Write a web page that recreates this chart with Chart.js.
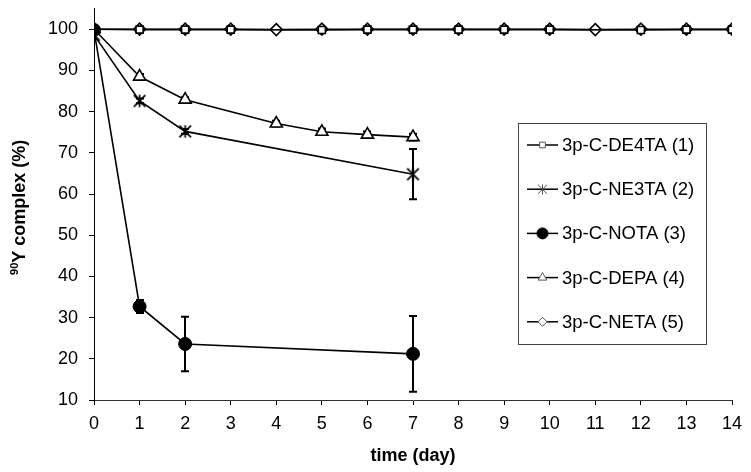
<!DOCTYPE html>
<html><head><meta charset="utf-8">
<script src="https://cdn.jsdelivr.net/npm/chart.js@4/dist/chart.umd.min.js"></script>
<style>html,body{margin:0;padding:0;background:#fff}</style>
</head><body>
<canvas id="c" width="751" height="472"></canvas>
<script>
// ---- data ----
const seriesNames = ['3p-C-DE4TA (1)', '3p-C-NE3TA (2)', '3p-C-NOTA (3)', '3p-C-DEPA (4)', '3p-C-NETA (5)'];
const xTickLabels = [0,1,2,3,4,5,6,7,8,9,10,11,12,13,14];
const yTickLabels = [10,20,30,40,50,60,70,80,90,100];
const xTitle = 'time (day)';
const yTitleSup = '90';
const yTitleMain = 'Y complex (%)';

const de4taDays = [0,1,2,3,5,6,7,8,9,10,12,13,14];
const de4taVals = [100,99.9,99.9,99.9,99.8,99.9,99.9,99.9,99.9,99.9,99.8,99.9,99.9];
const de4taErr  = [0,0,0,0,0,0,0,0,0,0,0,0,0];

const ne3taDays = [0,1,2,7];
const ne3taVals = [98.6,82.6,75.2,64.8];
const ne3taErr  = [0,0.6,0.6,6.1];

const notaDays = [0,1,2,7];
const notaVals = [99.8,32.7,23.6,21.2];
const notaErr  = [0,1.6,6.6,9.2];

const depaDays = [0,1,2,4,5,6,7];
const depaVals = [100,88.5,82.9,77.1,75.1,74.4,73.8];
const depaErr  = [0,0.6,0.6,0.7,0.8,0.8,0.8];

const netaDays = [0,1,2,3,4,5,6,7,8,9,10,11,12,13,14];
const netaVals = [100,100,100,100,99.9,100,100,100,100,100,100,99.9,100,100,100];
const netaErr  = [0,0,0,0,0,0,0,0,0,0,0,0,0,0,0];

// ---- helpers ----
function pts(xs, ys){ return xs.map((x,i)=>({x:x, y:ys[i]})); }
function makeStar(size, lw, color){
  const c = document.createElement('canvas');
  c.width = size; c.height = size;
  const g = c.getContext('2d');
  g.strokeStyle = color; g.lineWidth = lw;
  const m = lw; const s = size;
  g.beginPath();
  g.moveTo(m, m); g.lineTo(s-m, s-m);
  g.moveTo(s-m, m); g.lineTo(m, s-m);
  g.moveTo(s/2, m-0.5); g.lineTo(s/2, s-m+0.5);
  g.stroke();
  return c;
}
const starBig = makeStar(15, 1.7, '#000');
const starSmall = makeStar(11, 1, '#555');

const errorsBySeries = [de4taErr, ne3taErr, notaErr, depaErr, netaErr];
const FAM = '"Liberation Sans", Arial, sans-serif';

const errorBarPlugin = {
  id: 'errorBars',
  beforeDatasetsDraw(chart){
    const ctx = chart.ctx, xs = chart.scales.x, ys = chart.scales.y;
    ctx.save();
    ctx.strokeStyle = '#000'; ctx.lineWidth = 2;
    chart.data.datasets.forEach((ds, di) => {
      const errs = errorsBySeries[di];
      ds.data.forEach((p, i) => {
        const e = errs[i];
        if (!e) return;
        const px = Math.round(xs.getPixelForValue(p.x));
        const yt = ys.getPixelForValue(p.y + e);
        const yb = ys.getPixelForValue(p.y - e);
        ctx.beginPath();
        ctx.moveTo(px, yt); ctx.lineTo(px, yb);
        ctx.moveTo(px-4, yt); ctx.lineTo(px+4, yt);
        ctx.moveTo(px-4, yb); ctx.lineTo(px+4, yb);
        ctx.stroke();
      });
    });
    ctx.restore();
  }
};

const yTitlePlugin = {
  id: 'yTitle',
  afterDraw(chart){
    const ctx = chart.ctx, ca = chart.chartArea;
    ctx.save();
    const mainFont = 'bold 18px ' + FAM, supFont = 'bold 11px ' + FAM;
    ctx.font = mainFont; const wMain = ctx.measureText(yTitleMain).width;
    ctx.font = supFont; const wSup = ctx.measureText(yTitleSup).width;
    const total = wMain + wSup;
    const cy = (ca.top + ca.bottom) / 2 + 3;
    ctx.translate(25, cy);
    ctx.rotate(-Math.PI/2);
    ctx.fillStyle = '#000';
    ctx.textBaseline = 'alphabetic'; ctx.textAlign = 'left';
    ctx.font = supFont;
    ctx.fillText(yTitleSup, -total/2, -7);
    ctx.font = mainFont;
    ctx.fillText(yTitleMain, -total/2 + wSup, 0);
    ctx.restore();
  }
};

const legendStyles = [
  {pointStyle:'rect', radius:4, borderWidth:1, fill:'#fff', stroke:'#555'},
  {pointStyle:starSmall, radius:5, borderWidth:1, fill:'#fff', stroke:'#555'},
  {pointStyle:'circle', radius:5.5, borderWidth:1, fill:'#000', stroke:'#000'},
  {pointStyle:'triangle', radius:5, borderWidth:1, fill:'#fff', stroke:'#555'},
  {pointStyle:'rectRot', radius:4.5, borderWidth:1, fill:'#fff', stroke:'#555'}
];

const boxLegendPlugin = {
  id: 'boxLegend',
  afterDatasetsDraw(chart){
    const ctx = chart.ctx;
    const L = 518, T = 123, R = 706, B = 344;
    ctx.save();
    ctx.fillStyle = '#fff';
    ctx.fillRect(L, T, R-L, B-T);
    ctx.strokeStyle = '#444'; ctx.lineWidth = 1;
    ctx.strokeRect(L+0.5, T+0.5, R-L, B-T);
    chart.data.datasets.forEach((ds, i) => {
      const y = 145 + i*44.2;
      ctx.strokeStyle = '#000'; ctx.lineWidth = 1.5;
      ctx.beginPath(); ctx.moveTo(527, y); ctx.lineTo(558, y); ctx.stroke();
      const st = legendStyles[i];
      ctx.fillStyle = st.fill; ctx.strokeStyle = st.stroke; ctx.lineWidth = st.borderWidth;
      Chart.helpers.drawPoint(ctx, {pointStyle: st.pointStyle, radius: st.radius, borderWidth: st.borderWidth, rotation:0}, 542.5, y);
      ctx.fillStyle = '#000';
      ctx.font = '18.5px ' + FAM;
      ctx.textBaseline = 'middle'; ctx.textAlign = 'left';
      ctx.fillText(ds.label, 562, y + 1);
    });
    ctx.restore();
  }
};

const font = {family: FAM, size: 18};

new Chart(document.getElementById('c'), {
  type: 'line',
  data: {
    datasets: [
      {label: seriesNames[0], data: pts(de4taDays, de4taVals), pointStyle:'rect', pointRadius:5, pointBorderWidth:1.6, backgroundColor:'#fff', borderColor:'#000', borderWidth:1.6, order:4},
      {label: seriesNames[1], data: pts(ne3taDays, ne3taVals), pointStyle:starBig, pointRadius:7, pointBorderWidth:1.5, backgroundColor:'#fff', borderColor:'#000', borderWidth:1.6, order:2},
      {label: seriesNames[2], data: pts(notaDays, notaVals), pointStyle:'circle', pointRadius:6.5, pointBorderWidth:1, backgroundColor:'#000', borderColor:'#000', borderWidth:1.6, order:1},
      {label: seriesNames[3], data: pts(depaDays, depaVals), pointStyle:'triangle', pointRadius:7, pointBorderWidth:1.6, backgroundColor:'#fff', borderColor:'#000', borderWidth:1.6, order:3},
      {label: seriesNames[4], data: pts(netaDays, netaVals), pointStyle:'rectRot', pointRadius:6, pointBorderWidth:1.6, backgroundColor:'#fff', borderColor:'#000', borderWidth:1.6, order:5}
    ]
  },
  options: {
    responsive: false,
    animation: false,
    events: [],
    layout: {padding: {top: 8, right: 19, left: 0, bottom: 0}},
    plugins: {legend: {display: false}, tooltip: {enabled: false}},
    elements: {line: {tension: 0, fill: false}},
    scales: {
      x: {
        type: 'linear', min: 0, max: 14,
        afterBuildTicks(s){ s.ticks = xTickLabels.map(v => ({value: v})); },
        afterFit(s){ s.height = 72; s.paddingLeft = 0; s.paddingRight = 0; },
        grid: {drawOnChartArea: false, drawTicks: true, tickLength: 5, tickColor: '#000', tickWidth: 1},
        border: {display: true, color: '#333', width: 1},
        ticks: {color: '#000', font: font, padding: 8, maxRotation: 0, autoSkip: false},
        title: {display: true, text: xTitle, color: '#000', font: {family: FAM, size: 18, weight: 'bold'}, padding: {top: 0, bottom: 5}}
      },
      y: {
        type: 'linear', min: 10, max: 105,
        afterBuildTicks(s){ s.ticks = yTickLabels.map(v => ({value: v})); },
        afterFit(s){ s.width = 94; s.paddingTop = 0; s.paddingBottom = 0; },
        grid: {drawOnChartArea: false, drawTicks: true, tickLength: 5, tickColor: '#000', tickWidth: 1},
        border: {display: true, color: '#000', width: 1},
        ticks: {color: '#000', font: font, padding: 11, autoSkip: false},
        title: {display: false}
      }
    }
  },
  plugins: [errorBarPlugin, boxLegendPlugin, yTitlePlugin]
});
</script>
</body></html>
